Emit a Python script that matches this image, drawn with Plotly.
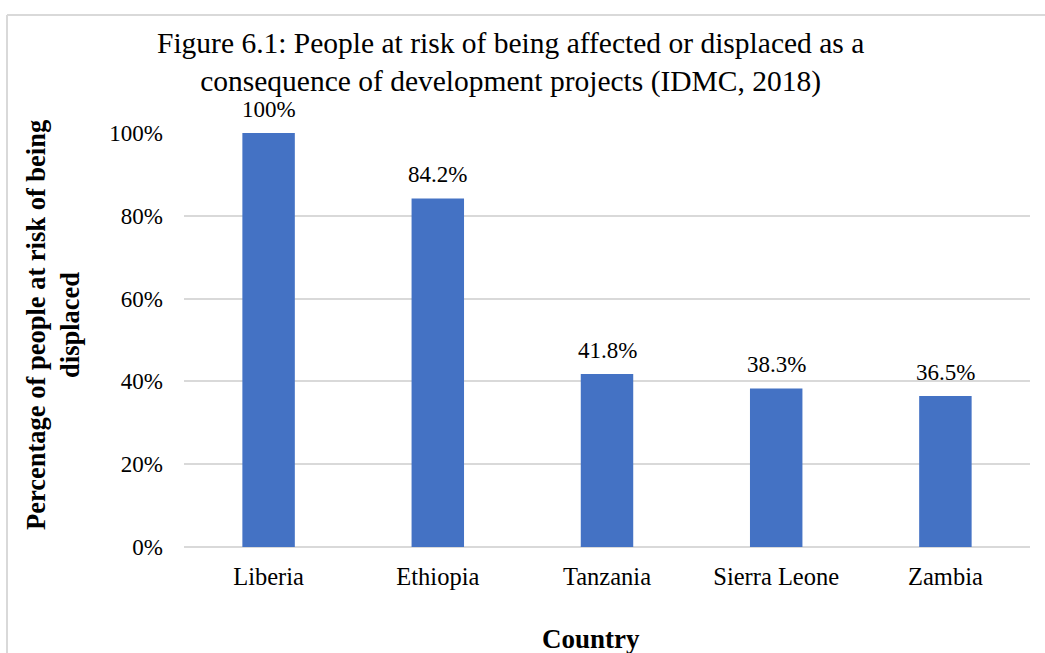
import plotly.graph_objects as go

# Share of people at risk of displacement, by country
countries = ["Liberia", "Ethiopia", "Tanzania", "Sierra Leone", "Zambia"]
risk_share = [1.00, 0.842, 0.418, 0.383, 0.365]
value_labels = ["100%", "84.2%", "41.8%", "38.3%", "36.5%"]
y_ticks = [0, 0.2, 0.4, 0.6, 0.8, 1.0]
y_tick_labels = ["0%", "20%", "40%", "60%", "80%", "100%"]

W, H = 1045, 653
L, R, T, B = 184, 15, 133, 106
SERIF = "Liberation Serif, Times New Roman, serif"


def px_x(px):
    return (px - L) / (W - L - R)


def px_y(py):
    return (H - B - py) / (H - T - B)


fig = go.Figure(
    go.Bar(
        x=countries,
        y=risk_share,
        marker=dict(color="#4472C4", line=dict(width=0)),
        cliponaxis=False,
    )
)

fig.update_layout(
    width=W,
    height=H,
    margin=dict(l=L, r=R, t=T, b=B),
    paper_bgcolor="white",
    plot_bgcolor="white",
    bargap=0.69,
    showlegend=False,
    font=dict(family=SERIF, color="#000000"),
)

fig.update_xaxes(
    showline=False,
    ticks="",
    tickfont=dict(family=SERIF, size=24.5, color="#000000"),
    ticklabelstandoff=12,
)
fig.update_yaxes(
    range=[0, 1.0],
    tickvals=y_ticks,
    ticktext=y_tick_labels,
    tickfont=dict(family=SERIF, size=23, color="#000000"),
    showgrid=True,
    gridcolor="#d9d9d9",
    gridwidth=1.5,
    zeroline=True,
    zerolinecolor="#d9d9d9",
    zerolinewidth=1.5,
    showline=False,
    ticks="",
    ticklabelstandoff=20,
)

annotations = [
    dict(
        text="Figure 6.1: People at risk of being affected or displaced as a<br>"
        "consequence of development projects (IDMC, 2018)",
        x=px_x(510), y=px_y(63), xref="paper", yref="paper",
        xanchor="center", yanchor="middle", showarrow=False,
        font=dict(family=SERIF, size=29.5, color="#000000"),
    ),
    dict(
        text="<b>Percentage of people at risk of being<br>displaced</b>",
        x=px_x(53), y=px_y(325), xref="paper", yref="paper",
        xanchor="center", yanchor="middle", showarrow=False, textangle=-90,
        font=dict(family=SERIF, size=26.5, color="#000000"),
    ),
    dict(
        text="<b>Country</b>",
        x=px_x(591), y=px_y(639), xref="paper", yref="paper",
        xanchor="center", yanchor="middle", showarrow=False,
        font=dict(family=SERIF, size=27, color="#000000"),
    ),
]

# Value labels sitting above each bar
for c, v, lab in zip(countries, risk_share, value_labels):
    annotations.append(
        dict(
            text=lab, x=c, y=v, xref="x", yref="y",
            xanchor="center", yanchor="bottom", yshift=9, showarrow=False,
            font=dict(family=SERIF, size=23, color="#000000"),
        )
    )

fig.update_layout(annotations=annotations)

# Outer chart frame (left and top edges visible)
border = dict(color="#d9d9d9", width=2)
fig.update_layout(
    shapes=[
        dict(type="line", xref="paper", yref="paper",
             x0=px_x(7), x1=px_x(7), y0=px_y(15), y1=px_y(H + 5), line=border),
        dict(type="line", xref="paper", yref="paper",
             x0=px_x(7), x1=px_x(W + 5), y0=px_y(15), y1=px_y(15), line=border),
    ]
)

fig.write_html("out.html")
